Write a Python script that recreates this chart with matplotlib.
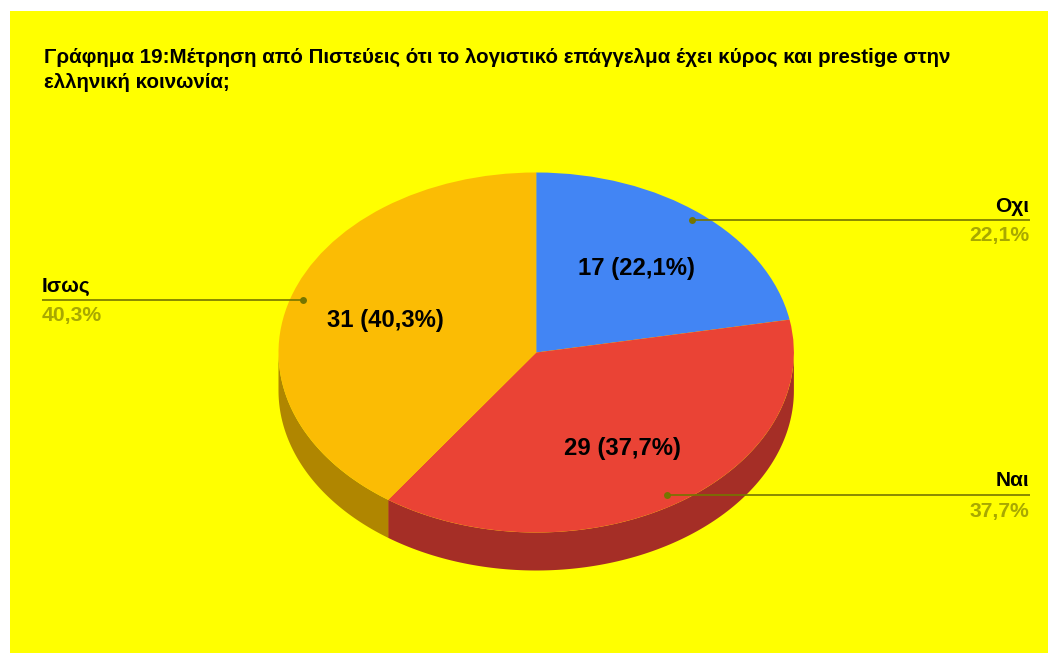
"""Pie chart with a fake 3D rim, Greek survey question."""
import matplotlib
matplotlib.use("Agg")
import matplotlib.pyplot as plt
import numpy as np

TITLE = ("Γράφημα 19:Μέτρηση από Πιστεύεις ότι το λογιστικό επάγγελμα έχει κύρος και prestige στην\n"
         "ελληνική κοινωνία;")
categories = ["Οχι", "Ναι", "Ισως"]
counts = [17, 29, 31]
shares = ["22,1%", "37,7%", "40,3%"]
colors = ["#4285f4", "#ea4335", "#fbbc04"]
dark_colors = ["#2e5daa", "#a52e26", "#b08600"]

W, H = 1048, 653
CX, CY, RX, RY, DEPTH = 536.2, 352.5, 257.7, 180, 38
YELLOW = "#ffff00"
LEADER = "#757500"
SHARE_COLOR = "#a8a800"
FONT = "Liberation Sans"

fig = plt.figure(figsize=(W / 100, H / 100), dpi=100, facecolor="white")

# yellow panel, leaves a thin white strip top and left
bg = fig.add_axes([10 / W, 0, 1 - 10 / W, 1 - 11 / H])
bg.set_facecolor(YELLOW)
bg.set_xticks([])
bg.set_yticks([])
for s in bg.spines.values():
    s.set_visible(False)

# pie axes: one data unit is RX pixels across and RY pixels down
ax = fig.add_axes([(CX - 1.3 * RX) / W, 1 - (CY + 1.3 * RY) / H, 2.6 * RX / W, 2.6 * RY / H])
ax.patch.set_visible(False)
fracs = np.array(counts) / sum(counts)
edges = np.concatenate([[0], np.cumsum(fracs)]) * 2 * np.pi
ax.pie(counts, colors=colors, startangle=90, counterclock=False, radius=1)
ax.set_aspect("auto")
ax.set_xlim(-1.3, 1.3)
ax.set_ylim(-1.3, 1.3)

# rim under the front half of the pie
d = DEPTH / RY
for i in range(len(counts)):
    a0, a1 = max(edges[i], np.pi / 2), min(edges[i + 1], 3 * np.pi / 2)
    if a1 <= a0:
        continue
    t = np.linspace(a0, a1, 120)
    xs = np.concatenate([np.sin(t), np.sin(t[::-1])])
    ys = np.concatenate([np.cos(t), np.cos(t[::-1]) - d])
    ax.fill(xs, ys, color=dark_colors[i], lw=0, zorder=0)

# overlay in pixel coordinates for text and leader lines
ov = fig.add_axes([0, 0, 1, 1])
ov.set_xlim(0, W)
ov.set_ylim(H, 0)
ov.axis("off")

ov.text(44, 70, TITLE, fontsize=14.8, fontweight="bold", family=FONT, color="black",
        va="center", ha="left", linespacing=1.4)

label_y = [220, 495, 300]
dot_x = [692, 667, 303]
value_pos = [(636.5, 269), (622, 448), (385, 321)]
for i, cat in enumerate(categories):
    y = label_y[i]
    if i == 2:
        x0, x1, tx, ha = 42, dot_x[i], 42, "left"
    else:
        x0, x1, tx, ha = dot_x[i], 1030, 1029, "right"
    ov.plot([x0, x1], [y, y], color=LEADER, lw=1.2, solid_capstyle="butt")
    ov.plot([dot_x[i]], [y], "o", ms=5, color=LEADER, mew=0)
    ov.text(tx, y - 14, cat, fontsize=15, fontweight="bold", family=FONT, color="black",
            ha=ha, va="center")
    ov.text(tx, y + 16, shares[i], fontsize=15.2, fontweight="bold", family=FONT,
            color=SHARE_COLOR, ha=ha, va="center")
    vx, vy = value_pos[i]
    ov.text(vx, vy, f"{counts[i]} ({shares[i]})", fontsize=17.2, fontweight="bold", family=FONT,
            color="black", ha="center", va="center")

fig.savefig("out.png", dpi=100)
